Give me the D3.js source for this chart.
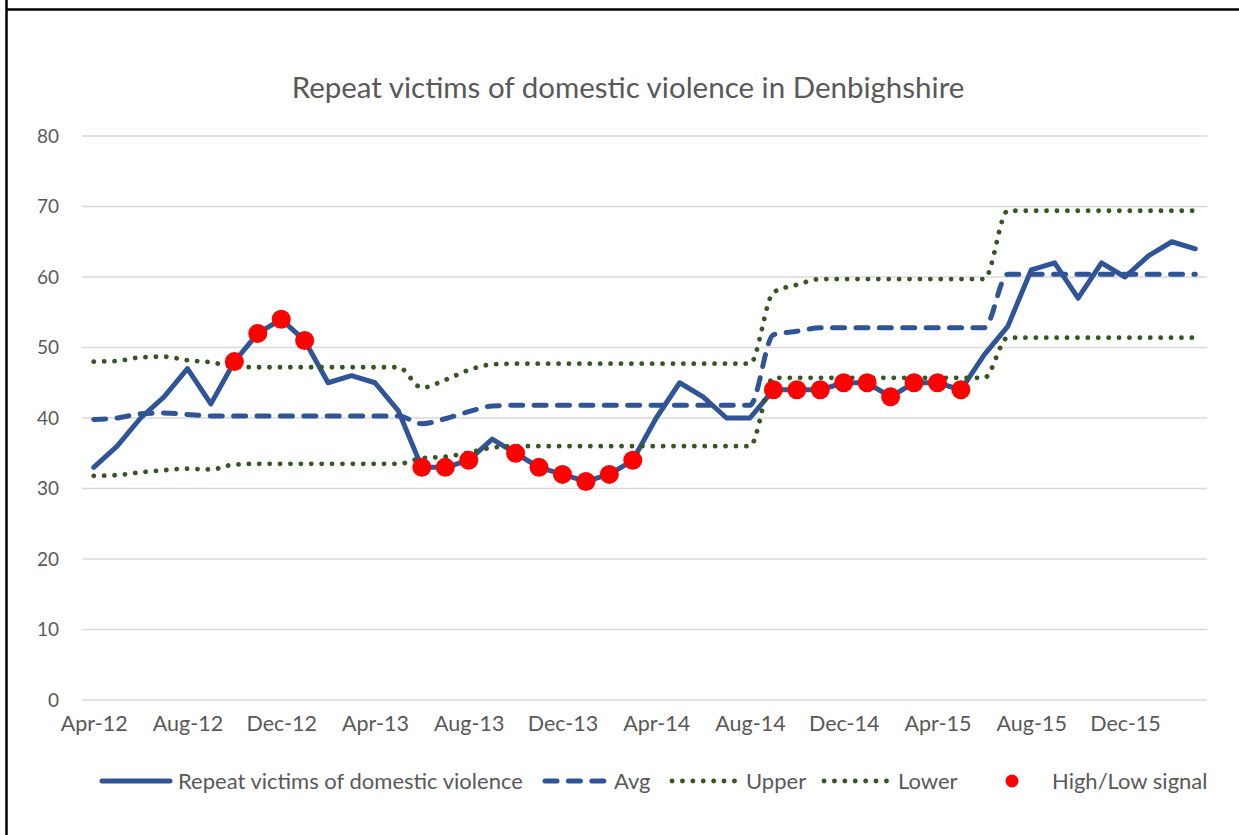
<!DOCTYPE html>
<html>
<head>
<meta charset="utf-8">
<script src="https://cdn.jsdelivr.net/npm/d3@7"></script>
<style>
  body { margin: 0; background: #fff; }
  svg { display: block; font-family: Lato, "Open Sans", sans-serif; }
</style>
</head>
<body>
<svg id="chart" width="1239" height="835"></svg>
<script>
const months = ["Apr-12","May-12","Jun-12","Jul-12","Aug-12","Sep-12","Oct-12","Nov-12","Dec-12","Jan-13","Feb-13","Mar-13",
    "Apr-13","May-13","Jun-13","Jul-13","Aug-13","Sep-13","Oct-13","Nov-13","Dec-13","Jan-14","Feb-14","Mar-14",
    "Apr-14","May-14","Jun-14","Jul-14","Aug-14","Sep-14","Oct-14","Nov-14","Dec-14","Jan-15","Feb-15","Mar-15",
    "Apr-15","May-15","Jun-15","Jul-15","Aug-15","Sep-15","Oct-15","Nov-15","Dec-15","Jan-16","Feb-16","Mar-16"]

const victims = [33,36,40,43,47,42,48,52,54,51,45,46,45,41,33,33,34,37,35,33,32,31,32,34,
    40,45,43,40,40,44,44,44,45,45,43,45,45,44,49,53,61,62,57,62,60,63,65,64]

const avg = [39.8,40.0,40.6,40.7,40.5,40.3,40.3,40.3,40.3,40.3,40.3,40.3,40.3,40.3,39.2,39.9,40.9,41.7,41.8,41.8,41.8,41.8,41.8,41.8,
    41.8,41.8,41.8,41.8,41.8,51.8,52.3,52.8,52.8,52.8,52.8,52.8,52.8,52.8,52.8,60.4,60.4,60.4,60.4,60.4,60.4,60.4,60.4,60.4]

const upper = [48.0,48.1,48.6,48.7,48.2,47.9,47.3,47.2,47.2,47.2,47.2,47.2,47.2,47.2,44.3,45.4,46.8,47.6,47.7,47.7,47.7,47.7,47.7,47.7,
    47.7,47.7,47.7,47.7,47.7,57.8,58.9,59.7,59.7,59.7,59.7,59.7,59.7,59.7,59.7,69.4,69.4,69.4,69.4,69.4,69.4,69.4,69.4,69.4]

const lower = [31.8,31.9,32.3,32.6,32.8,32.7,33.4,33.5,33.5,33.5,33.5,33.5,33.5,33.5,34.3,34.5,35.1,35.8,36.0,36.0,36.0,36.0,36.0,36.0,
    36.0,36.0,36.0,36.0,36.0,45.7,45.7,45.7,45.7,45.7,45.7,45.7,45.7,45.7,45.7,51.4,51.4,51.4,51.4,51.4,51.4,51.4,51.4,51.4]

const signal = [null,null,null,null,null,null,48,52,54,51,null,null,null,null,33,33,34,null,35,33,32,31,32,34,
    null,null,null,null,null,44,44,44,45,45,43,45,45,44,null,null,null,null,null,null,null,null,null,null]

const yTicks = [0,10,20,30,40,50,60,70,80]

const blue = "#2f5597",
    green = "#375623",
    textColor = "#595959"

const svg = d3.select("#chart")

// sheet border
svg.append("line").attr("x1", 6.5).attr("x2", 6.5).attr("y1", 0).attr("y2", 835)
    .attr("stroke", "#000").attr("stroke-width", 2.5)
svg.append("line").attr("x1", 6).attr("x2", 1239).attr("y1", 9.5).attr("y2", 9.5)
    .attr("stroke", "#000").attr("stroke-width", 2.5)

const x = d3.scalePoint()
    .domain(months)
    .range([82, 1207])
    .padding(0.5)

const y = d3.scaleLinear()
    .domain([0, 80])
    .range([700, 136])

svg.append("text")
    .attr("x", 628)
    .attr("y", 98)
    .attr("text-anchor", "middle")
    .style("font-size", "29.5px")
    .style("fill", textColor)
    .text("Repeat victims of domestic violence in Denbighshire")

// gridlines
svg.append("g")
    .selectAll("line")
    .data(yTicks)
    .join("line")
    .attr("x1", 82)
    .attr("x2", 1207)
    .attr("y1", d => y(d))
    .attr("y2", d => y(d))
    .attr("stroke", "#d9d9d9")
    .attr("stroke-width", 1.5)

const yAxis = svg.append("g")
    .attr("transform", "translate(59,0)")
    .call(d3.axisLeft(y).tickValues(yTicks).tickSize(0).tickPadding(0))
yAxis.select(".domain").remove()
yAxis.selectAll("text")
    .style("font-size", "19px")
    .style("font-family", "Lato, sans-serif")
    .style("fill", textColor)

const xAxis = svg.append("g")
    .attr("transform", "translate(0,716)")
    .call(d3.axisBottom(x).tickValues(months.filter((m, i) => i % 4 === 0)).tickSize(0).tickPadding(0))
xAxis.select(".domain").remove()
xAxis.selectAll("text")
    .attr("dy", "0.71em")
    .style("font-size", "21.5px")
    .style("font-family", "Lato, sans-serif")
    .style("fill", textColor)

const smooth = d3.line()
    .x((d, i) => x(months[i]))
    .y(d => y(d))
    .curve(d3.curveMonotoneX)

const straight = d3.line()
    .x((d, i) => x(months[i]))
    .y(d => y(d))

const lines = svg.append("g").attr("fill", "none").attr("stroke-linecap", "round")

lines.append("path")
    .attr("d", straight(victims))
    .attr("stroke", blue)
    .attr("stroke-width", 5)
    .attr("stroke-linejoin", "round")

lines.append("path")
    .attr("d", smooth(avg))
    .attr("stroke", blue)
    .attr("stroke-width", 5)
    .attr("stroke-dasharray", "12,11.4")

lines.append("path")
    .attr("d", smooth(upper))
    .attr("stroke", green)
    .attr("stroke-width", 4.8)
    .attr("stroke-dasharray", "0.1,10.3")

lines.append("path")
    .attr("d", smooth(lower))
    .attr("stroke", green)
    .attr("stroke-width", 4.8)
    .attr("stroke-dasharray", "0.1,10.3")

svg.append("g")
    .selectAll("circle")
    .data(signal.map((v, i) => ({v, m: months[i]})).filter(d => d.v !== null))
    .join("circle")
    .attr("cx", d => x(d.m))
    .attr("cy", d => y(d.v))
    .attr("r", 9.5)
    .attr("fill", "#ff0000")

// legend
const legY = 781
const leg = svg.append("g").attr("fill", "none").attr("stroke-linecap", "round")
leg.append("line").attr("x1", 102).attr("x2", 170).attr("y1", legY).attr("y2", legY)
    .attr("stroke", blue).attr("stroke-width", 5)
leg.append("line").attr("x1", 545).attr("x2", 606).attr("y1", legY).attr("y2", legY)
    .attr("stroke", blue).attr("stroke-width", 5).attr("stroke-dasharray", "12,11.4")
leg.append("line").attr("x1", 672).attr("x2", 740).attr("y1", legY).attr("y2", legY)
    .attr("stroke", green).attr("stroke-width", 4.8).attr("stroke-dasharray", "0.1,10.3")
leg.append("line").attr("x1", 824).attr("x2", 892).attr("y1", legY).attr("y2", legY)
    .attr("stroke", green).attr("stroke-width", 4.8).attr("stroke-dasharray", "0.1,10.3")
svg.append("circle").attr("cx", 1012).attr("cy", legY).attr("r", 6.5).attr("fill", "#ff0000")

const legendText = [
    {x: 178, t: "Repeat victims of domestic violence"},
    {x: 614, t: "Avg"},
    {x: 746, t: "Upper"},
    {x: 898, t: "Lower"},
    {x: 1052, t: "High/Low signal"}
]
svg.append("g")
    .selectAll("text")
    .data(legendText)
    .join("text")
    .attr("x", d => d.x)
    .attr("y", legY)
    .attr("dy", "0.35em")
    .style("font-size", "22px")
    .style("fill", textColor)
    .text(d => d.t)
</script>
</body>
</html>
